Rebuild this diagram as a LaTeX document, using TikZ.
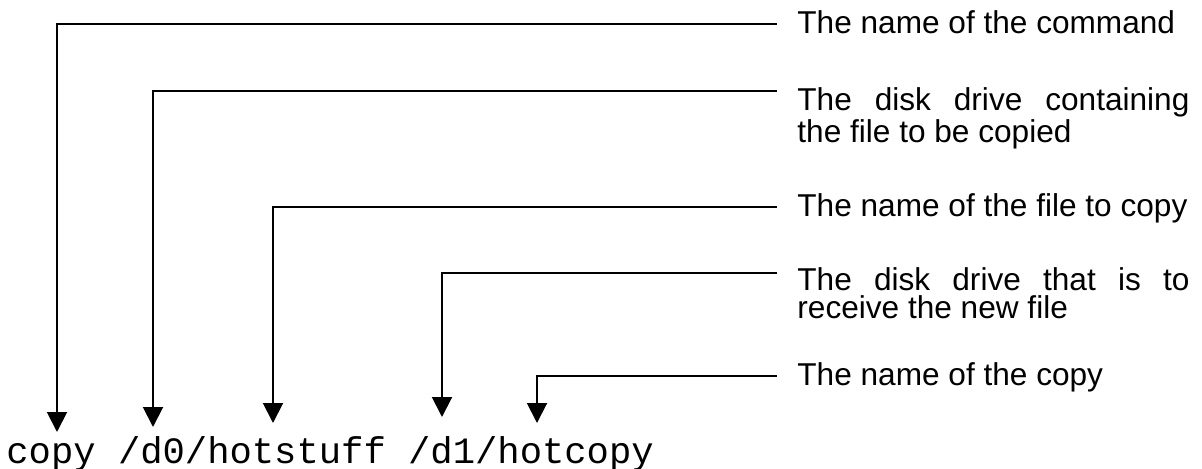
\documentclass[tikz,border=0pt]{standalone}
\usepackage{fontspec}
\setmainfont{Liberation Sans}
\newfontfamily\cmdfont{Liberation Mono}
\usepackage{tikz}
\usetikzlibrary{arrows.meta}
\tikzset{
  note/.style={anchor=base west, inner sep=0pt, text width=196pt, align=justify,
    font=\fontsize{15.8}{14}\selectfont},
  cmdline/.style={anchor=base west, inner sep=0pt, font=\cmdfont\fontsize{18.6}{20}\selectfont},
  pointer/.style={line width=1pt, -{Triangle[length=10pt,width=10pt]}},
}
\begin{document}
\begin{tikzpicture}[x=0.5pt,y=-0.5pt]
\useasboundingbox (0,0) rectangle (1202,469);
%%% The command line itself
\node[cmdline] (cmd) at (6,463) {copy /d0/hotstuff /d1/hotcopy};
%%% The explanations on the right
\node[note] (name) at (797,34) {The name of the command};
\node[note] (drive) at (797,111) {The disk drive containing\linebreak the file to be copied};
\node[note] (file) at (797,217) {The name of the file to copy};
\node[note] (target) at (797,291) {The disk drive that is to\linebreak receive the new file};
\node[note] (copy) at (797,386) {The name of the copy};
%%% Where the leaders start and where they point to
\coordinate (name-s) at (777,24);
\coordinate (drive-s) at (777,91);
\coordinate (file-s) at (777,207);
\coordinate (target-s) at (777,273);
\coordinate (copy-s) at (777,376);
%
\coordinate (name-t) at (57,432);
\coordinate (drive-t) at (153,427);
\coordinate (file-t) at (273,423);
\coordinate (target-t) at (442,417);
\coordinate (copy-t) at (537,423);
%%% The leaders
\draw[pointer] (name-s) -| (name-t);
\draw[pointer] (drive-s) -| (drive-t);
\draw[pointer] (file-s) -| (file-t);
\draw[pointer] (target-s) -| (target-t);
\draw[pointer] (copy-s) -| (copy-t);
\end{tikzpicture}
\end{document}
